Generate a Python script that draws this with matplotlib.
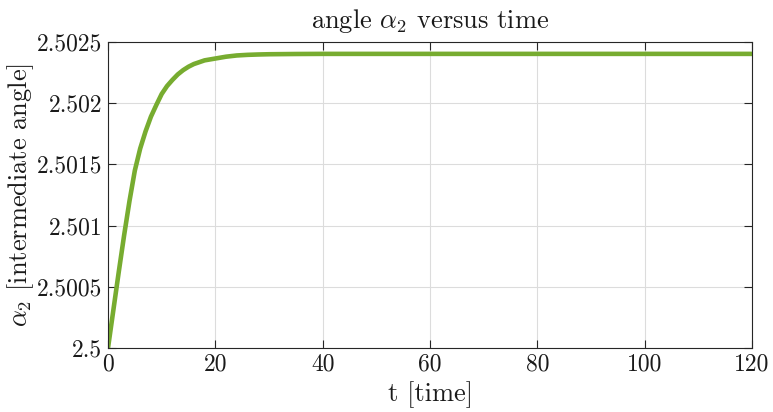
import matplotlib
matplotlib.use("Agg")
import matplotlib.pyplot as plt

plt.rcParams['font.family'] = ['cmr10', 'DejaVu Serif']
plt.rcParams['mathtext.fontset'] = 'cm'
plt.rcParams['axes.unicode_minus'] = False

# time samples and alpha_2 values
t = [0, 1, 2, 3, 4, 5, 6, 7, 8, 9, 10, 11, 12, 13, 14, 15, 16, 17, 18,
     20, 22, 24, 26, 28, 30, 35, 40, 50, 60, 70, 80, 90, 100, 110, 120]
alpha2 = [2.50000, 2.50031, 2.50062, 2.50092, 2.50120, 2.50145, 2.50163,
          2.50177, 2.50189, 2.501985, 2.502075, 2.50214, 2.50219, 2.502235,
          2.50227, 2.502298, 2.50232, 2.502335, 2.50235, 2.502365,
          2.50238, 2.50239, 2.502395, 2.502398, 2.5024, 2.502402, 2.502403,
          2.502403, 2.502403, 2.502403, 2.502403, 2.502403, 2.502403,
          2.502403, 2.502403]

xticks = [0, 20, 40, 60, 80, 100, 120]
yticks = [2.5, 2.5005, 2.501, 2.5015, 2.502, 2.5025]
ytick_labels = ['2.5', '2.5005', '2.501', '2.5015', '2.502', '2.5025']

fig = plt.figure(figsize=(7.73, 4.12), dpi=100)
ax = fig.add_axes([108/773, 1 - 348/412, (752-108)/773, (348-42)/412])

ax.plot(t, alpha2, color='#77AC30', linewidth=3.3, solid_joinstyle='round')

ax.set_xlim(0, 120)
ax.set_ylim(2.5, 2.5025)
ax.set_xticks(xticks)
ax.set_xticklabels([str(v) for v in xticks])
ax.set_yticks(yticks)
ax.set_yticklabels(ytick_labels)
ax.tick_params(direction='in', top=True, right=True, labelsize=17,
               length=6, width=0.8, color='#262626', labelcolor='#1a1a1a', pad=4)
ax.grid(True, color='#dcdcdc', linewidth=0.8)
ax.set_axisbelow(True)
for s in ax.spines.values():
    s.set_color('#262626')
    s.set_linewidth(0.8)

ax.set_title(r'angle $\alpha_2$ versus time', fontsize=19, color='#1a1a1a', pad=10)
ax.set_xlabel('t [time]', fontsize=19, color='#1a1a1a', labelpad=4)
ax.set_ylabel(r'$\alpha_2$ [intermediate angle]', fontsize=19, color='#1a1a1a', labelpad=1)

fig.savefig('out.png', dpi=100)
